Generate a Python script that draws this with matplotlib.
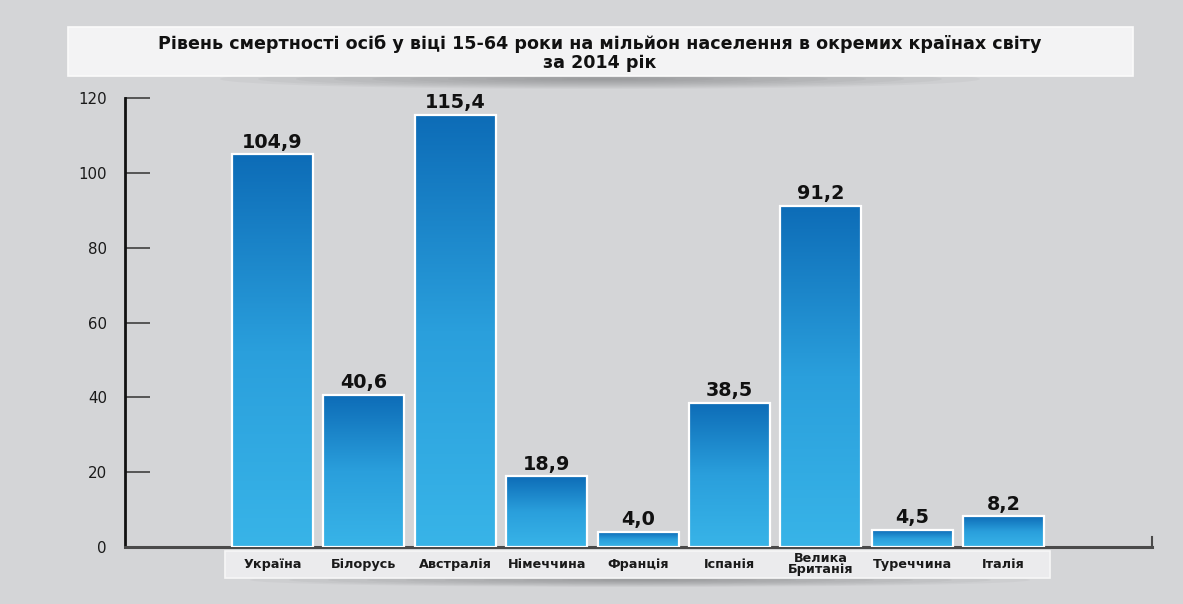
import matplotlib
matplotlib.use("Agg")
import matplotlib.pyplot as plt
import numpy as np
from matplotlib.colors import LinearSegmentedColormap
from matplotlib.patches import Rectangle, Ellipse

plt.rcParams["font.family"] = ["DejaVu Sans"]

# ---- data ----
categories = ["Україна", "Білорусь", "Австралія", "Німеччина", "Франція",
              "Іспанія", "Велика\nБританія", "Туреччина", "Італія"]
values = [104.9, 40.6, 115.4, 18.9, 4.0, 38.5, 91.2, 4.5, 8.2]
value_labels = ["104,9", "40,6", "115,4", "18,9", "4,0", "38,5", "91,2", "4,5", "8,2"]
yticks = [0, 20, 40, 60, 80, 100, 120]
title_line1 = "Рівень смертності осіб у віці 15-64 роки на мільйон населення в окремих країнах світу"
title_line2 = "за 2014 рік"

W, H = 1183, 604
fig = plt.figure(figsize=(W / 100, H / 100), dpi=100)
BG = "#d4d5d7"
fig.patch.set_facecolor(BG)


def fx(px):
    return px / W


def fy(py):
    return 1 - py / H


def soft_shadow(cx, cy, w, h, n=10, alpha=0.05):
    for k in range(n):
        s = 1 - k / n
        fig.patches.append(Ellipse((fx(cx), fy(cy)), fx(w * s), h * s / H,
                                   transform=fig.transFigure, facecolor="#555558",
                                   edgecolor="none", alpha=alpha, zorder=0))


# ---- title box ----
soft_shadow(600, 79, 760, 20)
fig.patches.append(Rectangle((fx(68), fy(76)), fx(1133 - 68), (76 - 27) / H,
                             transform=fig.transFigure, facecolor="#f3f3f4",
                             edgecolor="#fbfbfb", linewidth=1.2, zorder=1))
fig.text(fx(600), fy(44), title_line1, ha="center", va="center",
         fontsize=12.6, fontweight="bold", color="#111111", zorder=2)
fig.text(fx(600), fy(62.5), title_line2, ha="center", va="center",
         fontsize=12.6, fontweight="bold", color="#111111", zorder=2)

# ---- label strip box ----
soft_shadow(640, 580, 780, 14)
fig.patches.append(Rectangle((fx(225), fy(578)), fx(1050 - 225), (578 - 551) / H,
                             transform=fig.transFigure, facecolor="#ebebed",
                             edgecolor="#f7f7f7", linewidth=1.2, zorder=1))

# ---- main axes ----
ax = fig.add_axes([fx(125), fy(547), fx(1152 - 125), (547 - 98) / H])
ax.patch.set_alpha(0)
ax.set_zorder(3)

x = np.arange(len(categories))
bars = ax.bar(x, values, width=0.886, color="none", edgecolor="white",
              linewidth=1.6, zorder=3)

cmap = LinearSegmentedColormap.from_list("blu", ["#38b4e8", "#2a9fdc", "#0d6cb7"])
grad = np.linspace(0, 1, 256).reshape(-1, 1)
for b in bars:
    x0, w_, h_ = b.get_x(), b.get_width(), b.get_height()
    im = ax.imshow(grad, extent=[x0, x0 + w_, 0, h_], origin="lower",
                   cmap=cmap, aspect="auto", zorder=2.5, interpolation="bilinear")
    im.set_clip_path(b)

for xi, v, lab in zip(x, values, value_labels):
    ax.annotate(lab, (xi, v), xytext=(0, 2), textcoords="offset points",
                ha="center", va="bottom", fontsize=13.8, fontweight="bold",
                color="#111111", zorder=4)

ax.set_xlim(-1.614, 9.623)
ax.set_ylim(0, 120)

ax.set_yticks(yticks)
ax.set_yticklabels([str(t) for t in yticks])
ax.tick_params(axis="y", direction="in", length=18, width=1.4, color="#555555",
               labelsize=10.8, pad=13, labelcolor="#1a1a1a")
ax.set_xticks(x)
ax.set_xticklabels(categories, fontsize=9.2, fontweight="bold",
                   color="#1a1a1a", linespacing=0.78)
ax.tick_params(axis="x", length=0, pad=12.5)
for t in ax.get_xticklabels():
    t.set_verticalalignment("center")

ax.spines["top"].set_visible(False)
ax.spines["left"].set_color("#111111")
ax.spines["left"].set_linewidth(2)
ax.spines["bottom"].set_color("#4a4a4a")
ax.spines["bottom"].set_linewidth(2.2)
ax.spines["right"].set_color("#4a4a4a")
ax.spines["right"].set_linewidth(1.5)
ax.spines["right"].set_bounds(0, 2.8)

fig.savefig("out.png", dpi=100, facecolor=BG)
